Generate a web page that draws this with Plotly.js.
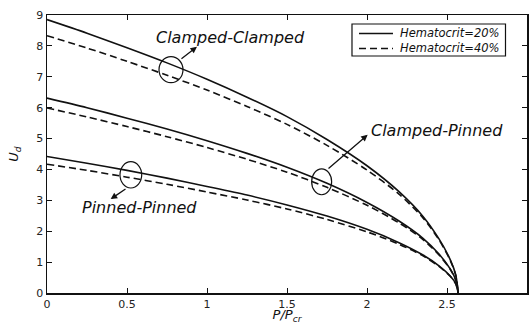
<!DOCTYPE html>
<html>
<head>
<meta charset="utf-8">
<script src="https://cdn.plot.ly/plotly-3.0.1.min.js"></script>
<style>html,body{margin:0;padding:0;background:#fff;}#chart{width:530px;height:324px;}</style>
</head>
<body>
<div id="chart"></div>
<script>
// P/Pcr values
const xVals = [0, 0.25, 0.5, 0.75, 1.0, 1.25, 1.5, 1.75, 2.0, 2.2, 2.35, 2.45, 2.52, 2.555, 2.57];
// Ud values
const ccSolid  = [8.85, 8.41, 7.94, 7.45, 6.92, 6.34, 5.71, 4.97, 4.12, 3.28, 2.48, 1.75, 1.08, 0.58, 0];
const ccDashed = [8.33, 7.93, 7.50, 7.05, 6.57, 6.04, 5.46, 4.78, 3.98, 3.20, 2.43, 1.72, 1.06, 0.57, 0];
const cpSolid  = [6.31, 6.00, 5.66, 5.31, 4.93, 4.52, 4.07, 3.55, 2.93, 2.33, 1.77, 1.26, 0.78, 0.42, 0];
const cpDashed = [5.99, 5.70, 5.39, 5.06, 4.71, 4.33, 3.91, 3.42, 2.84, 2.27, 1.73, 1.23, 0.77, 0.41, 0];
const ppSolid  = [4.42, 4.20, 3.97, 3.72, 3.45, 3.17, 2.85, 2.49, 2.06, 1.63, 1.23, 0.88, 0.55, 0.30, 0];
const ppDashed = [4.17, 3.97, 3.75, 3.52, 3.27, 3.01, 2.72, 2.38, 1.98, 1.58, 1.20, 0.86, 0.54, 0.29, 0];
const legendNames = ['Hematocrit=20%', 'Hematocrit=40%'];
const curveLabels = ['Clamped-Clamped', 'Clamped-Pinned', 'Pinned-Pinned'];
const xTicks = [0, 0.5, 1, 1.5, 2, 2.5, 3];
const xTickText = ['0', '0.5', '1', '1.5', '2', '2.5', '3'];
const yTicks = [0, 1, 2, 3, 4, 5, 6, 7, 8, 9];

const FONT = 'DejaVu Sans, Arial, sans-serif';
const INK = '#111';
const DASH = '7px,4px';
const solidLine = {color: INK, width: 1.6, shape: 'spline', smoothing: 0.8};
const dashedLine = {color: INK, width: 1.6, dash: DASH, shape: 'spline', smoothing: 0.8};

const traces = [
  {x: xVals, y: ccSolid, mode: 'lines', line: solidLine, name: legendNames[0]},
  {x: xVals, y: ccDashed, mode: 'lines', line: dashedLine, name: legendNames[1]},
  {x: xVals, y: cpSolid, mode: 'lines', line: solidLine, name: legendNames[0]},
  {x: xVals, y: cpDashed, mode: 'lines', line: dashedLine, name: legendNames[1]},
  {x: xVals, y: ppSolid, mode: 'lines', line: solidLine, name: legendNames[0]},
  {x: xVals, y: ppDashed, mode: 'lines', line: dashedLine, name: legendNames[1]}
];

const labelFont = {family: FONT, size: 16, color: INK, style: 'italic'};
const legFont = {family: FONT, size: 11.5, color: INK, style: 'italic'};
const arrow = {showarrow: true, arrowhead: 2, arrowsize: 1, arrowwidth: 1.3, arrowcolor: INK, axref: 'x', ayref: 'y', text: ''};

const layout = {
  width: 530, height: 324,
  margin: {l: 47, r: 3, t: 15, b: 31},
  paper_bgcolor: '#fff', plot_bgcolor: '#fff',
  showlegend: false,
  xaxis: {range: [0, 3], tickvals: xTicks, ticktext: xTickText, ticks: 'inside', ticklen: 5, tickcolor: INK,
          showline: true, linecolor: INK, linewidth: 1.5, mirror: 'ticks', showgrid: false, zeroline: false,
          tickfont: {family: FONT, size: 11, color: '#222'},
          title: {text: '<i>P/P<sub>cr</sub></i>', font: {family: FONT, size: 13, color: INK}, standoff: 6}},
  yaxis: {range: [0, 9], tickvals: yTicks, ticks: 'inside', ticklen: 5, tickcolor: INK,
          showline: true, linecolor: INK, linewidth: 1.5, mirror: 'ticks', showgrid: false, zeroline: false,
          tickfont: {family: FONT, size: 11, color: '#222'},
          title: {text: '<i>U<sub>d</sub></i>', font: {family: FONT, size: 13, color: INK}, standoff: 14}},
  shapes: [
    // annotation ellipses
    {type: 'circle', xref: 'x', yref: 'y', x0: 0.70, x1: 0.85, y0: 6.81, y1: 7.65, line: {color: INK, width: 1.2}},
    {type: 'circle', xref: 'x', yref: 'y', x0: 1.654, x1: 1.779, y0: 3.18, y1: 4.02, line: {color: INK, width: 1.2}},
    {type: 'circle', xref: 'x', yref: 'y', x0: 0.456, x1: 0.592, y0: 3.40, y1: 4.25, line: {color: INK, width: 1.2}},
    // legend box and samples
    {type: 'rect', xref: 'paper', yref: 'paper', x0: 0.6354, x1: 0.9552, y0: 0.8525, y1: 0.9676, fillcolor: '#fff', line: {color: INK, width: 1.2}, layer: 'above'},
    {type: 'line', xref: 'paper', yref: 'paper', x0: 0.65, x1: 0.7208, y0: 0.9335, y1: 0.9335, line: {color: INK, width: 1.6}, layer: 'above'},
    {type: 'line', xref: 'paper', yref: 'paper', x0: 0.65, x1: 0.7208, y0: 0.8795, y1: 0.8795, line: {color: INK, width: 1.6, dash: DASH}, layer: 'above'}
  ],
  annotations: [
    {x: 1.148, y: 8.26, xref: 'x', yref: 'y', text: curveLabels[0], showarrow: false, font: labelFont},
    {x: 2.44, y: 5.25, xref: 'x', yref: 'y', text: curveLabels[1], showarrow: false, font: labelFont},
    {x: 0.575, y: 2.755, xref: 'x', yref: 'y', text: curveLabels[2], showarrow: false, font: labelFont},
    Object.assign({}, arrow, {x: 0.9375, y: 7.97, ax: 0.831, ay: 7.55}),
    Object.assign({}, arrow, {x: 2.004, y: 5.12, ax: 1.75, ay: 3.99}),
    Object.assign({}, arrow, {x: 0.398, y: 3.04, ax: 0.5, ay: 3.40}),
    {x: 0.7313, y: 0.9335, xref: 'paper', yref: 'paper', xanchor: 'left', yanchor: 'middle', text: legendNames[0], showarrow: false, font: legFont},
    {x: 0.7313, y: 0.8795, xref: 'paper', yref: 'paper', xanchor: 'left', yanchor: 'middle', text: legendNames[1], showarrow: false, font: legFont}
  ]
};

Plotly.newPlot('chart', traces, layout, {displayModeBar: false, staticPlot: true});
</script>
</body>
</html>
